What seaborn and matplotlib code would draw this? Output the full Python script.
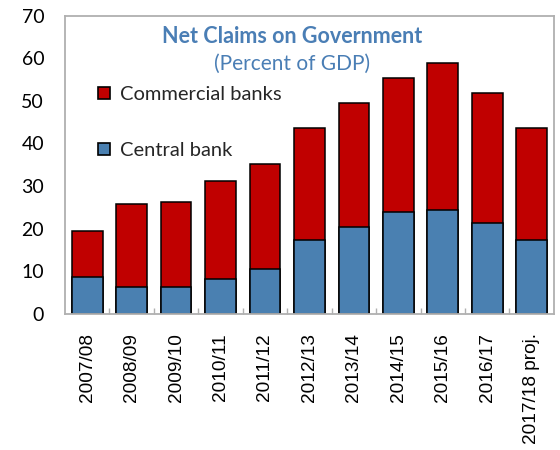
import matplotlib
matplotlib.use("Agg")
import matplotlib.pyplot as plt
from matplotlib.lines import Line2D
from matplotlib.ticker import FixedLocator
import seaborn as sns
import pandas as pd

# Net claims on government, percent of GDP
years = ["2007/08", "2008/09", "2009/10", "2010/11", "2011/12", "2012/13",
         "2013/14", "2014/15", "2015/16", "2016/17", "2017/18 proj."]
central_bank = [8.7, 6.3, 6.3, 8.1, 10.4, 17.3, 20.3, 24.0, 24.3, 21.2, 17.3]
commercial_banks = [10.8, 19.4, 19.9, 23.0, 24.7, 26.4, 29.2, 31.4, 34.7, 30.7, 26.4]
y_ticks = [0, 10, 20, 30, 40, 50, 60, 70]

RED = "#C00000"
BLUE = "#4A80B1"
TITLE_BLUE = "#4A7EB5"
GREY = "#B0B0B0"

df = pd.DataFrame({
    "year": years,
    "central": central_bank,
    "commercial": commercial_banks,
})
df["total"] = df["central"] + df["commercial"]

sns.set_theme(style="white")
plt.rcParams["font.family"] = ["Lato", "DejaVu Sans"]

fig = plt.figure(figsize=(5.6, 4.5), dpi=100)
ax = fig.add_axes([0.116, 0.303, 0.873, 0.662])

# stacked bars: full height in red, central bank share drawn over it in blue
sns.barplot(data=df, x="year", y="total", color=RED, saturation=1,
            width=0.69, edgecolor="black", linewidth=1.1, ax=ax)
sns.barplot(data=df, x="year", y="central", color=BLUE, saturation=1,
            width=0.69, edgecolor="black", linewidth=1.1, ax=ax)

ax.set_xlim(-0.5, len(years) - 0.5)
ax.set_ylim(0, 70)
ax.set_yticks(y_ticks)
ax.set_xlabel("")
ax.set_ylabel("")

for side in ["left", "right", "top", "bottom"]:
    ax.spines[side].set_visible(True)
    ax.spines[side].set_color(GREY)
    ax.spines[side].set_linewidth(1.3)

ax.tick_params(axis="y", which="major", direction="in", length=4, width=1,
               color=GREY, labelsize=14, pad=15, labelcolor="black")
ax.tick_params(axis="x", which="major", length=0, labelsize=13.7, pad=14,
               labelcolor="black")
ax.xaxis.set_minor_locator(FixedLocator([i + 0.5 for i in range(len(years) - 1)]))
ax.tick_params(axis="x", which="minor", direction="in", length=4, width=1,
               color=GREY, bottom=True)

for lab in ax.get_xticklabels():
    lab.set_rotation(90)
    lab.set_fontfamily(["Liberation Sans", "DejaVu Sans"])
    lab.set_va("top")
    lab.set_ha("center")

ax.text(0.465, 0.93, "Net Claims on Government", transform=ax.transAxes,
        ha="center", va="center", fontsize=15.5, fontweight="bold",
        color=TITLE_BLUE)
ax.text(0.465, 0.84, "(Percent of GDP)", transform=ax.transAxes,
        ha="center", va="center", fontsize=15, color=TITLE_BLUE)

handles = [
    Line2D([], [], marker="s", linestyle="none", markersize=8.5,
           markerfacecolor=RED, markeredgecolor="black", markeredgewidth=1.2),
    Line2D([], [], marker="s", linestyle="none", markersize=8.5,
           markerfacecolor=BLUE, markeredgecolor="black", markeredgewidth=1.2),
]
ax.legend(handles, ["Commercial banks", "Central bank"], loc="upper left",
          bbox_to_anchor=(0.05, 0.792), frameon=False, fontsize=14.5,
          handlelength=0.6, handletextpad=0.5, labelspacing=1.95,
          borderaxespad=0)

fig.savefig("out.png", dpi=100)
